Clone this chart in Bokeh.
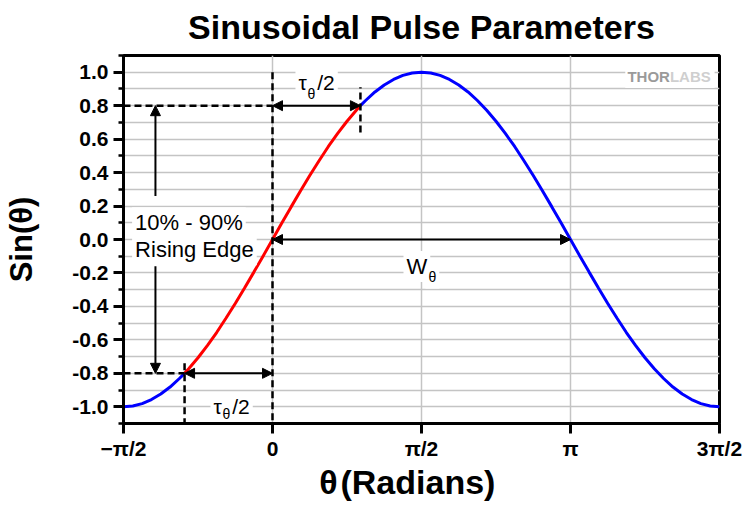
import math
from bokeh.plotting import figure
from bokeh.models import (FixedTicker, NumeralTickFormatter, Range1d, Label, Arrow,
                          NormalHead)
from bokeh.embed import file_html
from bokeh.resources import INLINE

PI = math.pi
FONT = "Liberation Sans"

# ---- data ----
# sin(theta) sampled every pi/32 from -pi/2 to 3pi/2
theta_start = -PI / 2
theta_step = PI / 32
sin_values = [
    -1.0, -0.995, -0.981, -0.957, -0.924, -0.882, -0.831, -0.773, -0.707,
    -0.634, -0.556, -0.471, -0.383, -0.290, -0.195, -0.098, 0.0,
    0.098, 0.195, 0.290, 0.383, 0.471, 0.556, 0.634, 0.707,
    0.773, 0.831, 0.882, 0.924, 0.957, 0.981, 0.995, 1.0,
    0.995, 0.981, 0.957, 0.924, 0.882, 0.831, 0.773, 0.707,
    0.634, 0.556, 0.471, 0.383, 0.290, 0.195, 0.098, 0.0,
    -0.098, -0.195, -0.290, -0.383, -0.471, -0.556, -0.634, -0.707,
    -0.773, -0.831, -0.882, -0.924, -0.957, -0.981, -0.995, -1.0,
]
theta_values = [theta_start + k * theta_step for k in range(len(sin_values))]

level_lo = -0.8          # 10 % level
level_hi = 0.8           # 90 % level
theta_lo = -0.927        # crossing of -0.8
theta_hi = 0.927         # crossing of 0.8
theta_zero = 0.0
theta_pi = PI

x_tick_values = [-PI / 2, 0.0, PI / 2, PI, 3 * PI / 2]
x_tick_labels = ["\u2212\u03c0/2", "0", "\u03c0/2", "\u03c0", "3\u03c0/2"]
y_tick_values = [-1.0, -0.8, -0.6, -0.4, -0.2, 0.0, 0.2, 0.4, 0.6, 0.8, 1.0]
y_minor_values = [-1.1, -0.9, -0.7, -0.5, -0.3, -0.1, 0.1, 0.3, 0.5, 0.7, 0.9, 1.1]

# ---- split curve into blue / red / blue ----
left_x = [t for t in theta_values if t < theta_lo] + [theta_lo]
left_y = [s for t, s in zip(theta_values, sin_values) if t < theta_lo] + [level_lo]
mid_x = [theta_lo] + [t for t in theta_values if theta_lo < t < theta_hi] + [theta_hi]
mid_y = [level_lo] + [s for t, s in zip(theta_values, sin_values) if theta_lo < t < theta_hi] + [level_hi]
right_x = [theta_hi] + [t for t in theta_values if t > theta_hi]
right_y = [level_hi] + [s for t, s in zip(theta_values, sin_values) if t > theta_hi]

p = figure(width=742, height=504, output_backend="svg", toolbar_location=None,
           x_range=Range1d(-PI / 2, 3 * PI / 2), y_range=Range1d(-1.1, 1.1),
           min_border_left=123, min_border_right=23, min_border_top=55,
           min_border_bottom=81)

p.title.text = "Sinusoidal Pulse Parameters"
p.title.text_font = FONT
p.title.text_font_size = "34px"
p.title.text_font_style = "bold"
p.title.text_color = "black"
p.title.align = "center"
p.title.vertical_align = "top"
p.title.standoff = 15

p.outline_line_color = "black"
p.outline_line_width = 3

# axes
p.xaxis.ticker = FixedTicker(ticks=x_tick_values)
p.xaxis.major_label_overrides = dict(zip(x_tick_values, x_tick_labels))
p.yaxis.ticker = FixedTicker(ticks=y_tick_values, minor_ticks=y_minor_values)
p.yaxis.formatter = NumeralTickFormatter(format="0.0")
for ax in (p.xaxis[0], p.yaxis[0]):
    ax.axis_line_width = 3
    ax.axis_line_color = "black"
    ax.major_tick_in = 0
    ax.major_tick_out = 10
    ax.major_tick_line_width = 3
    ax.minor_tick_in = 0
    ax.minor_tick_out = 5
    ax.minor_tick_line_width = 2.5
    ax.major_label_text_font = FONT
    ax.major_label_text_font_style = "bold"
    ax.major_label_text_color = "black"
    ax.axis_label_text_font = FONT
    ax.axis_label_text_font_style = "bold"
    ax.axis_label_text_color = "black"
p.xaxis.major_label_text_font_size = "21px"
p.xaxis.major_label_standoff = 3
p.xaxis.minor_tick_out = 0
p.xaxis.axis_label = "\u03b8\u200a(Radians)\u00a0\u00a0\u00a0"
p.xaxis.axis_label_text_font_size = "34px"
p.xaxis.axis_label_standoff = 0
p.yaxis.major_label_text_font_size = "21px"
p.yaxis.major_label_standoff = 5
p.yaxis.axis_label = "Sin(\u03b8)"
p.yaxis.axis_label_text_font_size = "31px"
p.yaxis.axis_label_standoff = 30

# grids
p.xgrid.ticker = FixedTicker(ticks=x_tick_values)
p.ygrid.ticker = FixedTicker(ticks=y_tick_values, minor_ticks=y_minor_values)
p.xgrid.grid_line_color = "#c4c4c4"
p.xgrid.grid_line_width = 1.5
p.ygrid.grid_line_color = "#c4c4c4"
p.ygrid.grid_line_width = 1.5
p.ygrid.minor_grid_line_color = "#c4c4c4"
p.ygrid.minor_grid_line_width = 1.5

# curve
p.line(left_x, left_y, line_color="#0000ff", line_width=3)
p.line(mid_x, mid_y, line_color="#ff0000", line_width=3)
p.line(right_x, right_y, line_color="#0000ff", line_width=3)

# dashed guide lines
dash = "7 4"
p.line([-PI / 2, theta_zero], [level_hi, level_hi], line_color="black", line_width=2.5, line_dash=dash)
p.line([-PI / 2, theta_lo], [level_lo, level_lo], line_color="black", line_width=2.5, line_dash=dash)
p.line([theta_zero, theta_zero], [1.0, -1.1], line_color="black", line_width=2.5, line_dash=dash)
p.line([theta_hi, theta_hi], [0.64, 0.91], line_color="black", line_width=2.5, line_dash=dash)
p.line([theta_lo, theta_lo], [-0.74, -1.1], line_color="black", line_width=2.5, line_dash=dash)


def head():
    return NormalHead(size=10, fill_color="black", line_color="black", line_width=1)


def arrow(x0, y0, x1, y1, both=True):
    p.add_layout(Arrow(x_start=x0, y_start=y0, x_end=x1, y_end=y1,
                       start=head() if both else None, end=head(),
                       line_color="black", line_width=2))


arrow(theta_zero, level_hi, theta_hi, level_hi)
arrow(theta_lo, level_lo, theta_zero, level_lo)
arrow(theta_zero, 0.0, theta_pi, 0.0)
arrow(-1.234, 0.26, -1.234, level_hi, both=False)
arrow(-1.234, -0.16, -1.234, level_lo, both=False)


def label(x, y, text, size, bg=True, style="normal", color="black", align="left",
          baseline="alphabetic"):
    kw = dict(x=x, y=y, text=text, text_font=FONT, text_font_size=size,
              text_font_style=style, text_color=color, text_align=align,
              text_baseline=baseline)
    if bg:
        kw.update(background_fill_color="white", padding=3)
    p.add_layout(Label(**kw))


label(-1.48, 0.10, "10% - 90%", "22px")
label(-1.48, -0.062, "Rising Edge", "22px")
label(0.242, 0.938, "\u03c4\u2002/2", "21px")
label(0.369, 0.867, "\u03b8", "14px", bg=False)
label(-0.654, -0.998, "\u03c4\u2002/2", "21px")
label(-0.527, -1.046, "\u03b8", "14px", bg=False)
label(1.381, -0.161, "W", "22px")
label(1.613, -0.227, "\u03b8", "14px")
# logo: white box first, then the two coloured parts
label(4.19, 0.974, "THORLABS", "15px", style="bold", color="white", align="center")
label(4.19, 0.974, "THOR", "15px", bg=False, style="bold", color="#9a9a9a", align="right")
label(4.19, 0.974, "LABS", "15px", bg=False, style="bold", color="#cfcfcf", align="left")

open("out.html", "w").write(file_html(p, INLINE))
